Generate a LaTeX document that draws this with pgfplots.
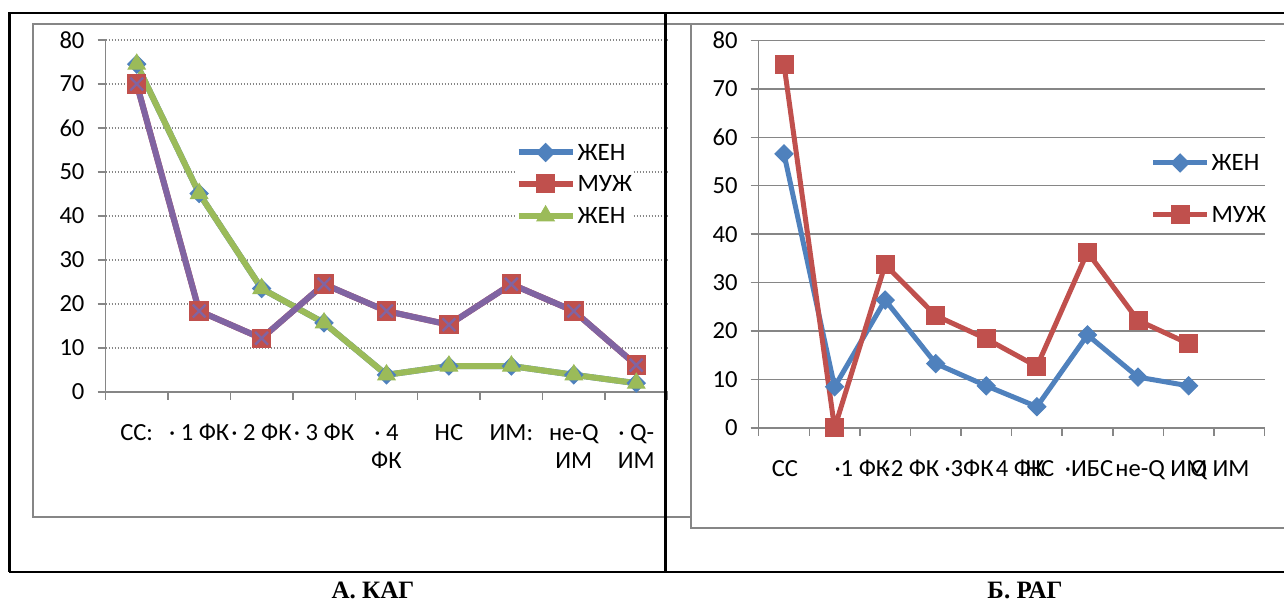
\documentclass[border=0pt]{standalone}
\usepackage{fontspec}
\setmainfont{Carlito}
\newfontfamily\capfont{Liberation Serif}
\usepackage{pgfplots}
\usepackage{pgfplotstable}
\pgfplotsset{compat=1.18}

\definecolor{xlblue}{HTML}{4F81BD}
\definecolor{xlred}{HTML}{C0504D}
\definecolor{xlgreen}{HTML}{9BBB59}
\definecolor{xlpurple}{HTML}{8064A2}
\definecolor{xlgrid}{HTML}{868686}

% A. KAG
\pgfplotstableread{
idx zhen muzh
0 74.5 70.0
1 45.1 18.4
2 23.5 12.2
3 15.7 24.5
4 3.9 18.4
5 5.9 15.3
6 5.9 24.5
7 3.9 18.4
8 2.0 6.1
}\kag

% B. RAG
\pgfplotstableread{
idx zhen muzh
0 56.6 75.0
1 8.5 0.0
2 26.4 33.7
3 13.3 23.2
4 8.7 18.4
5 4.4 12.7
6 19.2 36.3
7 10.5 22.2
8 8.7 17.4
}\rag

\pgfplotsset{
  xlchart/.style={
    scale only axis, ymin=0, ymax=80, ytick={0,10,...,80},
    axis x line*=bottom, axis y line*=left,
    axis line style={xlgrid, line width=0.75pt},
    tick align=outside, major tick length=4pt,
    tick style={xlgrid, line width=0.75pt},
    ymajorgrids,
    /pgf/number format/assume math mode=true,
    every tick label/.append style={font=\fontsize{12.3}{14.25}\selectfont},
    yticklabel style={xshift=-3pt},
    xticklabels={},
    extra x tick style={tick style={draw=none}},
    xticklabel style={align=center, anchor=north, inner sep=0pt, yshift=-12pt},
    legend style={draw=none, inner sep=0pt, column sep=1pt,
      font=\fontsize{12.5}{14.25}\selectfont,
      nodes={inner sep=0pt, text height=8pt, text depth=0pt}},
    legend cell align=left,
    legend image code/.code={\draw[mark repeat=2, mark phase=2, ##1] plot coordinates {(0pt,0pt) (13.5pt,0pt) (27pt,0pt)};},
  },
}

\begin{document}
\begin{tikzpicture}
\path[use as bounding box] (0,0) rectangle (642pt,301.5pt);

\draw[xlgrid, line width=0.75pt] (16.5pt,43pt) rectangle (350pt,289.5pt);

\begin{axis}[xlchart,
  at={(52.75pt,105.5pt)}, anchor=south west,
  width=281pt, height=176pt,
  xmin=-0.5, xmax=8.5,
  xtick={-0.5,0.5,...,8.5},
  extra x ticks={0,1,...,8},
  extra x tick labels={{СС:},{· 1 ФК},{· 2 ФК},{· 3 ФК},{· 4\\ФК},{НС},{ИМ:},{не-Q\\ИМ},{· Q-\\ИМ}},
  grid style={xlgrid, line width=0.75pt, dash pattern=on 0.75pt off 0.75pt},
  legend style={at={(0.729,0.592)}, anchor=west, row sep=6.5pt, fill=white},
]
\addplot[xlblue, line width=3pt, mark=square*, mark size=3.2pt,
  mark options={rotate=45, line width=0.5pt, solid}] table[x=idx, y=zhen] {\kag};
\addlegendentry{ЖЕН}
\addplot[xlred, line width=3pt, mark=square*, mark size=4.6pt,
  mark options={line width=0.5pt, solid}] table[x=idx, y=muzh] {\kag};
\addlegendentry{МУЖ}
\addplot[xlgreen, line width=3pt, mark=triangle*, mark size=5pt,
  mark options={line width=0.5pt, solid}] table[x=idx, y=zhen] {\kag};
\addlegendentry{ЖЕН}
\addplot[xlpurple, line width=3pt, mark=x, mark size=4.5pt,
  mark options={line width=1.2pt, solid}, forget plot] table[x=idx, y=muzh] {\kag};
\end{axis}

\draw[xlgrid, line width=0.75pt, fill=white] (345.5pt,37.5pt) rectangle (650pt,289.5pt);

\begin{axis}[xlchart,
  at={(379.35pt,87.5pt)}, anchor=south west,
  width=252.9pt, height=193.8pt,
  xmin=-0.5, xmax=9.5,
  xtick={-0.5,0.5,...,9.5},
  extra x ticks={0.02,1.54,2.53,3.66,4.67,5.06,6.03,7.46,8.62},
  extra x tick labels={{СС},{·1 ФК},{·2 ФК},{·3ФК},{4 ФК},{НС},{·ИБС},{не-Q ИМ},{Q ИМ}},
  grid style={xlgrid, line width=0.75pt},
  legend style={at={(0.774,0.618)}, anchor=west, row sep=16.5pt, fill=none},
]
\addplot[xlblue, line width=2.5pt, mark=square*, mark size=3.2pt,
  mark options={rotate=45, line width=0.5pt, solid}] table[x=idx, y=zhen] {\rag};
\addlegendentry{ЖЕН}
\addplot[xlred, line width=2.5pt, mark=square*, mark size=4.5pt,
  mark options={line width=0.5pt, solid}] table[x=idx, y=muzh] {\rag};
\addlegendentry{МУЖ}
\end{axis}

\draw[black, line width=1.1pt] (4.7pt,15.5pt) -- (4.7pt,295.15pt) -- (645pt,295.15pt);
\draw[black, line width=1.1pt] (4.7pt,15.5pt) -- (645pt,15.5pt);
\draw[black, line width=1.1pt] (332.75pt,15.5pt) -- (332.75pt,295.15pt);

\node[font=\capfont\bfseries\fontsize{12.5}{14}\selectfont] at (186.5pt,6.3pt) {А. КАГ};
\node[font=\capfont\bfseries\fontsize{12.5}{14}\selectfont] at (512.5pt,6.3pt) {Б. РАГ};
\end{tikzpicture}
\end{document}
